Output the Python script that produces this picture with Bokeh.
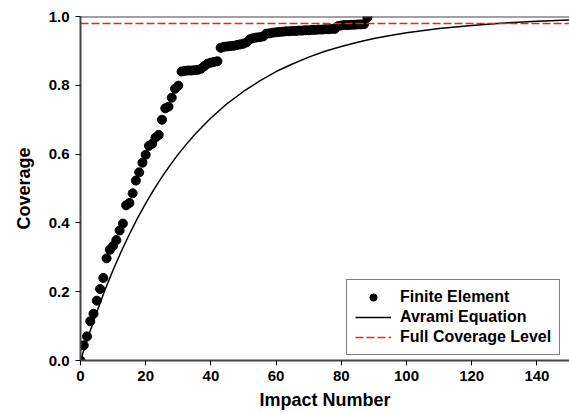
from bokeh.plotting import figure
from bokeh.models import Range1d, FixedTicker, NumeralTickFormatter, Span
from bokeh.embed import file_html
from bokeh.resources import INLINE

# Finite Element coverage per impact number
fe_x = list(range(89))
fe_y = [0.000, 0.044, 0.070, 0.114, 0.136, 0.174, 0.208, 0.240, 0.297, 0.322,
        0.333, 0.350, 0.378, 0.398, 0.451, 0.458, 0.486, 0.523, 0.547, 0.575,
        0.598, 0.624, 0.630, 0.648, 0.656, 0.700, 0.733, 0.738, 0.764, 0.790,
        0.799, 0.840, 0.842, 0.843, 0.843, 0.844, 0.845, 0.848, 0.856, 0.863,
        0.866, 0.868, 0.870, 0.909, 0.912, 0.913, 0.914, 0.915, 0.917, 0.919,
        0.921, 0.925, 0.934, 0.937, 0.939, 0.940, 0.942, 0.950, 0.951, 0.953,
        0.954, 0.955, 0.956, 0.957, 0.957, 0.958, 0.958, 0.959, 0.959, 0.960,
        0.960, 0.961, 0.961, 0.962, 0.962, 0.963, 0.963, 0.964, 0.964, 0.972,
        0.974, 0.975, 0.975, 0.976, 0.976, 0.977, 0.977, 0.978, 0.997]

# Avrami equation curve
av_x = [0, 2.5, 5, 7.5, 10, 12.5, 15, 17.5, 20, 22.5, 25, 27.5, 30, 32.5, 35,
        37.5, 40, 45, 50, 55, 60, 65, 70, 75, 80, 85, 90, 95, 100, 110, 120,
        130, 140, 150]
av_y = [0.000, 0.073, 0.141, 0.205, 0.263, 0.317, 0.367, 0.414, 0.457, 0.497,
        0.534, 0.568, 0.600, 0.629, 0.656, 0.681, 0.705, 0.747, 0.782, 0.813,
        0.840, 0.862, 0.882, 0.899, 0.913, 0.925, 0.936, 0.945, 0.953, 0.965,
        0.974, 0.981, 0.986, 0.990]

# Full coverage level
full_x = [0, 150]
full_y = [0.98, 0.98]

x_ticks = [0, 20, 40, 60, 80, 100, 120, 140]
y_ticks = [0.0, 0.2, 0.4, 0.6, 0.8, 1.0]

FONT = "Liberation Sans"
AXIS_COLOR = "#444444"

p = figure(width=569, height=413, output_backend="svg", toolbar_location=None,
           x_range=Range1d(0, 150), y_range=Range1d(0, 1.0),
           min_border_left=80, min_border_right=0, min_border_top=16,
           min_border_bottom=53)
p.outline_line_color = None
p.grid.visible = False
p.background_fill_color = "white"
p.border_fill_color = "white"

p.scatter(fe_x, fe_y, size=9, color="black", legend_label="Finite Element")
p.line(av_x, av_y, line_color="black", line_width=1.5, legend_label="Avrami Equation")
p.line(full_x, full_y, line_color="#ff1a1a", line_width=1.5, line_dash="8 3",
       legend_label="Full Coverage Level")

p.add_layout(Span(location=1.0, dimension="width", line_color=AXIS_COLOR, line_width=2))

for ax in (p.xaxis[0], p.yaxis[0]):
    ax.axis_line_color = AXIS_COLOR
    ax.axis_line_width = 2
    ax.major_tick_out = 5
    ax.major_tick_in = 0
    ax.major_tick_line_color = "black"
    ax.minor_tick_line_color = None
    ax.major_label_text_font = FONT
    ax.major_label_text_font_style = "bold"
    ax.major_label_text_font_size = "15px"
    ax.major_label_text_color = "black"
    ax.axis_label_text_font = FONT
    ax.axis_label_text_font_style = "bold"
    ax.axis_label_text_font_size = "18px"
    ax.axis_label_text_color = "black"

p.xaxis[0].ticker = FixedTicker(ticks=x_ticks)
p.yaxis[0].ticker = FixedTicker(ticks=y_ticks)
p.yaxis[0].formatter = NumeralTickFormatter(format="0.0")
p.xaxis[0].axis_label = "Impact Number"
p.yaxis[0].axis_label = "Coverage"
p.xaxis[0].major_label_standoff = 5
p.xaxis[0].axis_label_standoff = 6
p.yaxis[0].major_label_standoff = 6
p.yaxis[0].axis_label_standoff = 12

lg = p.legend[0]
lg.location = (266, 5)
lg.label_text_font = FONT
lg.label_text_font_style = "bold"
lg.label_text_font_size = "16px"
lg.label_text_color = "black"
lg.glyph_width = 36
lg.glyph_height = 18
lg.label_height = 18
lg.label_standoff = 9
lg.padding = 8
lg.spacing = 2
lg.margin = 0
lg.border_line_color = "black"
lg.border_line_width = 1
lg.background_fill_alpha = 1.0

open("out.html", "w").write(file_html(p, INLINE))
